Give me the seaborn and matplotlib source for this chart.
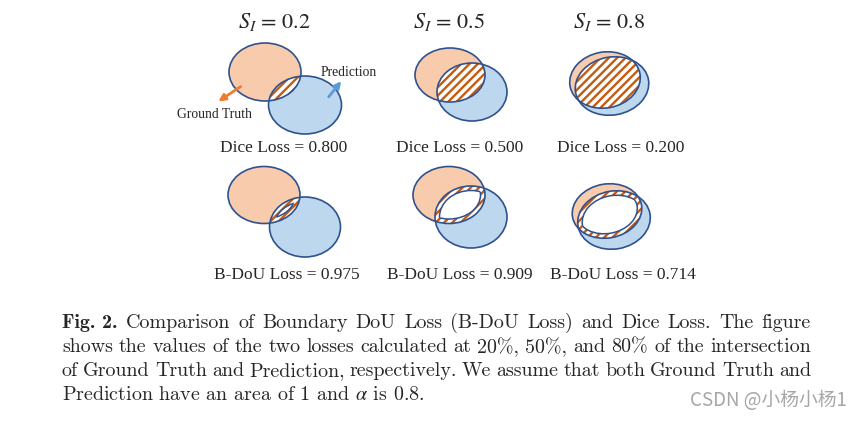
import matplotlib
matplotlib.use("Agg")
import matplotlib.pyplot as plt
from matplotlib.patches import Ellipse
import seaborn as sns

# ---- values shown in the figure ----
s_levels = [0.2, 0.5, 0.8]
dice_loss = [0.800, 0.500, 0.200]
bdou_loss = [0.975, 0.909, 0.714]
gt_label = "Ground Truth"
pred_label = "Prediction"
caption_lines = [
    "Comparison of Boundary DoU Loss (B-DoU Loss) and Dice Loss. The figure",
    "shows the values of the two losses calculated at 20%, 50%, and 80% of the intersection",
    "of Ground Truth and Prediction, respectively. We assume that both Ground Truth and",
    "Prediction have an area of 1 and $\\alpha$ is 0.8.",
]
caption_head = "Fig. 2."
watermark = "CSDN @小杨小杨1"

# ---- styling ----
sns.set_theme(style="white")
plt.rcParams['font.family'] = ['Liberation Serif', 'DejaVu Serif']
plt.rcParams['mathtext.fontset'] = 'stix'
GT_COL = "#f8cbad"
PRED_COL = "#bdd7ee"
EDGE_COL = "#2f528f"
HATCH_COL = "#c55a11"
plt.rcParams['hatch.linewidth'] = 1.7
plt.rcParams['hatch.color'] = HATCH_COL

# layout in pixel units (figure is 862 x 422)
col_x = [274, 449, 609]
row1_geom = [((265, 72), (72, 58), (305, 105), (73, 58), 0),
             ((450, 75), (70, 54), (472, 92), (70, 58), 0),
             ((605, 80), (71, 56), (612, 86), (74, 58), -10)]
row2_geom = [((264, 195), (72, 57), (305, 227), (71, 60), 0),
             ((449, 195), (72, 57), (471, 217), (72, 62), 0),
             ((607, 211), (70, 54), (614, 220), (73, 58), -10)]
dice_x = [284, 460, 621]
bdou_x = [287, 460, 623]

fig = plt.figure(figsize=(8.62, 4.22), dpi=100)
ax = fig.add_axes([0, 0, 1, 1])
ax.set_xlim(0, 862)
ax.set_ylim(422, 0)
ax.axis('off')


def draw_pair(ax, geom, ring):
    gc, gs, pc, ps, ang = geom
    ax.add_patch(Ellipse(gc, gs[0], gs[1], angle=ang, fc=GT_COL, ec='none'))
    ax.add_patch(Ellipse(pc, ps[0], ps[1], angle=ang, fc=PRED_COL, ec='none'))
    # hatched intersection
    clip = Ellipse(gc, gs[0], gs[1], angle=ang, transform=ax.transData)
    h = Ellipse(pc, ps[0], ps[1], angle=ang, fc='white', ec=HATCH_COL,
                lw=0, hatch='////')
    ax.add_patch(h)
    h.set_clip_path(clip)
    if ring:
        t = 4.5
        clip_g = Ellipse(gc, gs[0] - 2 * t, gs[1] - 2 * t, angle=ang,
                         transform=ax.transData)
        clip_p = Ellipse(pc, ps[0] - 2 * t, ps[1] - 2 * t, angle=ang,
                         transform=ax.transData)
        inner = Ellipse(pc, ps[0] - 2 * t, ps[1] - 2 * t, angle=ang,
                        fc='white', ec=EDGE_COL, lw=1.1)
        ax.add_patch(inner)
        inner.set_clip_path(clip_g)
        inner2 = Ellipse(gc, gs[0] - 2 * t, gs[1] - 2 * t, angle=ang,
                         fc='none', ec=EDGE_COL, lw=1.1)
        ax.add_patch(inner2)
        inner2.set_clip_path(clip_p)
    ax.add_patch(Ellipse(gc, gs[0], gs[1], angle=ang, fc='none',
                         ec=EDGE_COL, lw=1.2))
    ax.add_patch(Ellipse(pc, ps[0], ps[1], angle=ang, fc='none',
                         ec=EDGE_COL, lw=1.2))


for i in range(3):
    ax.text(col_x[i], 22, "$S_I$ = %.1f" % s_levels[i], fontsize=16,
            ha='center', va='center', family='STIXGeneral')
    draw_pair(ax, row1_geom[i], ring=False)
    draw_pair(ax, row2_geom[i], ring=True)
    ax.text(dice_x[i], 148, "Dice Loss = %.3f" % dice_loss[i], fontsize=12.5,
            ha='center', va='center')
    ax.text(bdou_x[i], 275, "B-DoU Loss = %.3f" % bdou_loss[i], fontsize=12.5,
            ha='center', va='center')

# labels and arrows on the first panel
ax.annotate("", xy=(216, 103), xytext=(243, 85),
            arrowprops=dict(arrowstyle='-|>', color='#ed7d31', lw=2,
                            mutation_scale=10))
ax.annotate("", xy=(343, 79), xytext=(327, 99),
            arrowprops=dict(arrowstyle='-|>', color='#5b9bd5', lw=2,
                            mutation_scale=10))
ax.text(177, 114, gt_label, fontsize=9.8, ha='left', va='center')
ax.text(321, 72, pred_label, fontsize=9.8, ha='left', va='center')

# caption, justified between x0 and x1
x0, x1 = 62, 811
line_y = [323, 347, 371, 395]
cap_size = 14.4
renderer = fig.canvas.get_renderer()
for k, line in enumerate(caption_lines):
    if k == len(caption_lines) - 1:
        ax.text(x0, line_y[k], line, fontsize=cap_size, family='cmr10',
                ha='left', va='center')
        continue
    words = [(w, 'cmr10') for w in line.split(' ')]
    if k == 0:
        words = [(caption_head, 'cmb10')] + words
    texts = [ax.text(0, line_y[k], w, fontsize=cap_size, family=f,
                     ha='left', va='center') for w, f in words]
    widths = [t.get_window_extent(renderer).width for t in texts]
    gap = (x1 - x0 - sum(widths)) / (len(texts) - 1)
    x = x0
    for t, w in zip(texts, widths):
        t.set_x(x)
        x += w + gap

ax.text(690, 401, watermark, fontsize=13.5, color='#a6a6a6', ha='left',
        va='center', family=['Noto Sans CJK SC', 'DejaVu Sans'])

fig.savefig("out.png", dpi=100)
